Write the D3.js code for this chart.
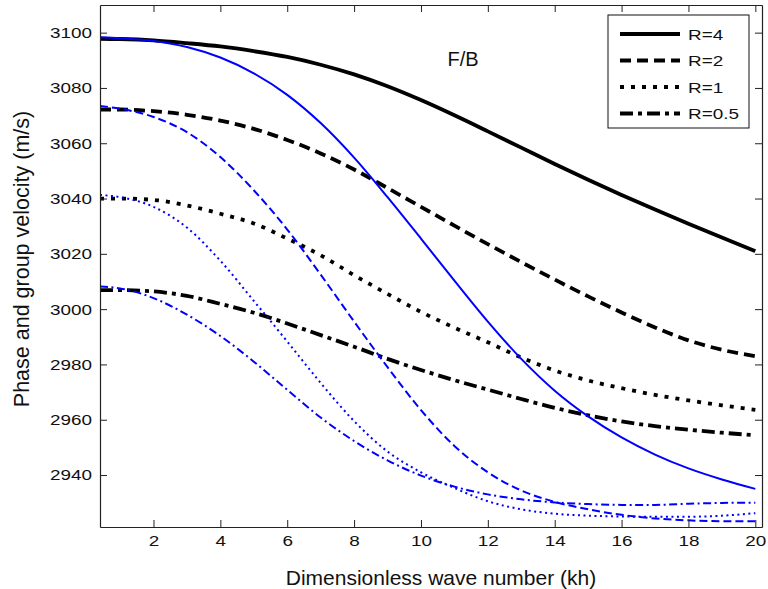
<!DOCTYPE html>
<html><head><meta charset="utf-8">
<script src="https://cdn.jsdelivr.net/npm/d3@7"></script>
<style>
body{margin:0;background:#fff}
svg{display:block}
text{font-family:"Liberation Sans",Arial,Helvetica,sans-serif;fill:#111}
</style>
</head><body>
<svg id="c" width="768" height="589"></svg>
<script>
// ---- data ----
const kh = [0.4,1,2,3,4,5,6,7,8,9,10,11,12,13,14,15,16,17,18,19,20];
const labels = ["R=4","R=2","R=1","R=0.5"];
// black curves (phase velocity)
const phaseR4  = [3097.8,3097.7,3097.2,3096.2,3095,3093.3,3091.2,3088.4,3084.9,3080.6,3075.6,3070.1,3064.3,3058.4,3052.5,3046.8,3041.3,3036,3030.9,3025.9,3021];
const phaseR2  = [3072.2,3072.2,3071.6,3070.3,3068.2,3065.2,3061.2,3056.3,3050.5,3043.8,3037,3030.2,3023.5,3017,3010.7,3004.6,2998.8,2993.4,2988.7,2985.3,2983];
const phaseR1  = [3040,3040,3039.5,3037.5,3034.5,3031,3025.5,3019.5,3012.3,3005.5,2999,2993.3,2988,2982.5,2977.8,2974.2,2971.4,2969,2967,2965.2,2963.6];
const phaseR05 = [3006.9,3006.9,3006.4,3004.8,3001.9,2998.7,2994.8,2990.6,2986.4,2982,2978,2974.3,2970.9,2967.5,2964.3,2961.6,2959.4,2957.7,2956.4,2955.3,2954.4];
// blue curves (group velocity)
const groupR4  = [3098.3,3098,3097,3094.8,3091,3085.3,3077.5,3067.3,3054.8,3040.5,3025.5,3010.3,2995.5,2982,2970.5,2961.2,2953.6,2947.4,2942.4,2938.4,2935];
const groupR2  = [3073.5,3072.5,3069.5,3064,3055,3043,3028.8,3012.5,2995.5,2979,2963.5,2950.5,2941,2934.4,2930.3,2927.6,2925.6,2924.3,2923.6,2923.3,2923.3];
const groupR1  = [3041.3,3040.5,3037,3029.5,3017.5,3003,2988.3,2973.3,2959.5,2948.5,2941,2935.3,2930.5,2927.6,2926,2925.3,2925,2924.9,2924.9,2925.3,2926.2];
const groupR05 = [3008.2,3007.5,3004,2998,2990.3,2981,2970.8,2960.8,2952.3,2945.3,2939.8,2935.8,2933,2931.2,2930.1,2929.5,2929.2,2929.2,2929.6,2929.9,2930];
const xTicks = [2,4,6,8,10,12,14,16,18,20];
const yTicks = [2940,2960,2980,3000,3020,3040,3060,3080,3100];

// ---- layout ----
const L=100, R=762, T=5, B=527;
const SX = 1.22; // horizontal stretch of small text
const svg = d3.select("#c");
const x = d3.scaleLinear().domain([0.4,20.2]).range([L,R]);
const y = d3.scaleLinear().domain([2921.2,3110]).range([B,T]);

const blackDash = [null,"11,6","4,7","13,5,4,5"];
const blueDash  = [null,"8,4","2,3.5","8,3.5,2,3.5"];
const phase = [phaseR4,phaseR2,phaseR1,phaseR05];
const group = [groupR4,groupR2,groupR1,groupR05];

const line = d3.line().x(d=>x(d[0])).y(d=>y(d[1])).curve(d3.curveMonotoneX);

svg.append("clipPath").attr("id","clip").append("rect")
  .attr("x",L).attr("y",T).attr("width",R-L).attr("height",B-T);
const g = svg.append("g").attr("clip-path","url(#clip)");

phase.forEach((s,i)=>{
  g.append("path").datum(kh.map((k,j)=>[k,s[j]]))
   .attr("d",line).attr("fill","none").attr("stroke","#000")
   .attr("stroke-width",3.8).attr("stroke-dasharray",blackDash[i]);
});
group.forEach((s,i)=>{
  g.append("path").datum(kh.map((k,j)=>[k,s[j]]))
   .attr("d",line).attr("fill","none").attr("stroke","#0000ff")
   .attr("stroke-width",2).attr("stroke-dasharray",blueDash[i]);
});

// ---- axes ----
const axColor="#222";
function styleAxis(sel){
  sel.selectAll("path.domain").attr("stroke",axColor).attr("stroke-width",1.2);
  sel.selectAll(".tick line").attr("stroke",axColor).attr("stroke-width",1);
}
const ax = svg.append("g").attr("transform",`translate(0,${B})`)
  .call(d3.axisBottom(x).tickValues(xTicks).tickSize(-7).tickSizeOuter(0).tickPadding(8));
ax.call(styleAxis);
ax.selectAll(".tick text").attr("font-size",15.5).attr("fill","#111")
  .attr("transform",`scale(${SX},1)`);

const ay = svg.append("g").attr("transform",`translate(${L},0)`)
  .call(d3.axisLeft(y).tickValues(yTicks).tickSize(-7).tickSizeOuter(0).tickPadding(8).tickFormat(d3.format("d")));
ay.call(styleAxis);
ay.selectAll(".tick text").attr("font-size",15.5).attr("fill","#111")
  .attr("x",-8/SX).attr("transform",`scale(${SX},1)`);

const at = svg.append("g").attr("transform",`translate(0,${T})`)
  .call(d3.axisTop(x).tickValues(xTicks).tickSize(-7).tickSizeOuter(0).tickFormat(""));
at.call(styleAxis);
const ar = svg.append("g").attr("transform",`translate(${R},0)`)
  .call(d3.axisRight(y).tickValues(yTicks).tickSize(-7).tickSizeOuter(0).tickFormat(""));
ar.call(styleAxis);

// ---- labels ----
svg.append("text").attr("x",441).attr("y",585).attr("text-anchor","middle")
  .attr("font-size",21).text("Dimensionless wave number (kh)");
svg.append("text").attr("transform","translate(29,259) rotate(-90)").attr("text-anchor","middle")
  .attr("font-size",21.5).text("Phase and group velocity (m/s)");
svg.append("text").attr("x",463).attr("y",66).attr("text-anchor","middle")
  .attr("font-size",20).text("F/B");

// ---- legend ----
const lg = svg.append("g");
lg.append("rect").attr("x",608).attr("y",15).attr("width",141).attr("height",113)
  .attr("fill","#fff").attr("stroke","#111").attr("stroke-width",1);
const rowY = [34,60.5,87,113.5];
labels.forEach((lab,i)=>{
  lg.append("line").attr("x1",620).attr("x2",680).attr("y1",rowY[i]).attr("y2",rowY[i])
    .attr("stroke","#000").attr("stroke-width",3.8).attr("stroke-dasharray",blackDash[i]);
  lg.append("text").attr("transform",`translate(688,${rowY[i]+5.5}) scale(${SX},1)`)
    .attr("font-size",15.5).text(lab);
});
</script>
</body></html>
